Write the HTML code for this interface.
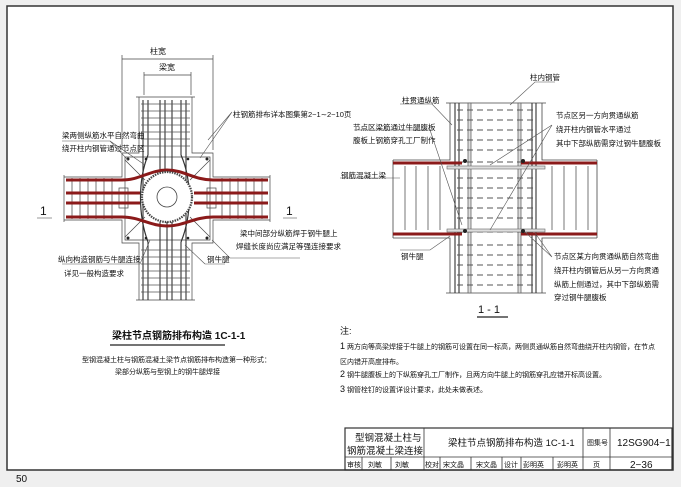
<!DOCTYPE html>
<html><head><meta charset="utf-8"><style>
html,body{margin:0;padding:0;background:#efefef;}
svg{display:block}
text{font-family:"Liberation Sans","Noto Sans CJK SC",sans-serif;fill:#111}
</style></head><body>
<svg width="681" height="487" viewBox="0 0 681 487" xmlns="http://www.w3.org/2000/svg">
<rect x="7" y="6" width="666" height="464" fill="#fff" stroke="#333" stroke-width="1.5"/>
<text x="16" y="482" font-size="10" font-family="Liberation Serif">50</text>

<!-- LEFT DIAGRAM -->
<g stroke="#444" fill="none" stroke-width="0.7">
 <line x1="122" y1="59" x2="213" y2="59"/><line x1="122" y1="55" x2="122" y2="150"/><line x1="213" y1="55" x2="213" y2="150"/>
 <line x1="144" y1="75" x2="191" y2="75"/><line x1="144" y1="72" x2="144" y2="95"/><line x1="191" y1="72" x2="191" y2="95"/>
 <path d="M139 97 V153 H122 V177 H64 M64 220 H122 V243 H139 V300 M192 97 V153 H213 V177 H270 M270 220 H213 V243 H192 V300"/>
 <line x1="136" y1="97" x2="195" y2="97"/><line x1="136" y1="300" x2="195" y2="300"/>
 <line x1="64" y1="175" x2="64" y2="222"/><line x1="270" y1="175" x2="270" y2="222"/>
 <path d="M125 157 H210 V240 H125 Z"/>
 <g stroke="#333" stroke-width="1.1">
  <line x1="143" y1="100" x2="143" y2="300"/><line x1="148" y1="100" x2="148" y2="155"/><line x1="148" y1="242" x2="148" y2="300"/>
  <line x1="186" y1="100" x2="186" y2="300"/><line x1="181" y1="100" x2="181" y2="155"/><line x1="181" y1="242" x2="181" y2="300"/>
  <line x1="160" y1="100" x2="160" y2="172"/><line x1="172" y1="100" x2="172" y2="172"/>
  <line x1="160" y1="222" x2="160" y2="300"/><line x1="172" y1="222" x2="172" y2="300"/>
  <line x1="165" y1="100" x2="165" y2="172"/><line x1="167" y1="222" x2="167" y2="300"/>
 </g>
 <g stroke="#555" stroke-width="0.8">
  <line x1="141" y1="104" x2="190" y2="104"/><line x1="141" y1="111" x2="190" y2="111"/><line x1="141" y1="118" x2="190" y2="118"/><line x1="141" y1="125" x2="190" y2="125"/><line x1="141" y1="132" x2="190" y2="132"/><line x1="141" y1="139" x2="190" y2="139"/><line x1="141" y1="146" x2="190" y2="146"/>
  <line x1="141" y1="250" x2="190" y2="250"/><line x1="141" y1="257" x2="190" y2="257"/><line x1="141" y1="264" x2="190" y2="264"/><line x1="141" y1="271" x2="190" y2="271"/><line x1="141" y1="278" x2="190" y2="278"/><line x1="141" y1="285" x2="190" y2="285"/><line x1="141" y1="292" x2="190" y2="292"/>
  <line x1="72" y1="178" x2="72" y2="219"/><line x1="80" y1="178" x2="80" y2="219"/><line x1="88" y1="178" x2="88" y2="219"/><line x1="96" y1="178" x2="96" y2="219"/><line x1="104" y1="178" x2="104" y2="219"/><line x1="112" y1="178" x2="112" y2="219"/>
  <line x1="222" y1="178" x2="222" y2="219"/><line x1="230" y1="178" x2="230" y2="219"/><line x1="238" y1="178" x2="238" y2="219"/><line x1="246" y1="178" x2="246" y2="219"/><line x1="254" y1="178" x2="254" y2="219"/><line x1="262" y1="178" x2="262" y2="219"/>
 </g>
 <path d="M148 155 C138 180 138 215 148 242 M181 155 C192 180 192 215 181 242" stroke="#333" stroke-width="1.2"/>
 <path d="M125 160 L145 180 M210 160 L190 180 M125 237 L145 217 M210 237 L190 217"/>
 <rect x="119" y="188" width="9" height="20"/><rect x="207" y="188" width="9" height="20"/>
</g>
<g stroke="#8b1a1a" stroke-width="3" fill="none">
 <path d="M66 180 H122 C140 180 150 170 167 170 C184 170 194 180 213 180 H268"/>
 <path d="M66 217 H122 C140 217 150 226 167 226 C184 226 194 217 213 217 H268"/>
 <line x1="66" y1="193" x2="140" y2="193"/><line x1="66" y1="203" x2="140" y2="203"/>
 <line x1="194" y1="193" x2="268" y2="193"/><line x1="194" y1="203" x2="268" y2="203"/>
</g>
<circle cx="167" cy="197" r="25" fill="#fff" stroke="#444" stroke-width="2.2" stroke-dasharray="1.5 1"/>
<circle cx="167" cy="197" r="10" fill="none" stroke="#444" stroke-width="0.8"/>
<g fill="#222">
 <circle cx="128" cy="159" r="1.5"/><circle cx="207" cy="159" r="1.5"/><circle cx="128" cy="238" r="1.5"/><circle cx="207" cy="238" r="1.5"/>
 <circle cx="146" cy="159" r="1.3"/><circle cx="188" cy="159" r="1.3"/><circle cx="146" cy="238" r="1.3"/><circle cx="188" cy="238" r="1.3"/>
</g>
<g stroke="#555" stroke-width="0.6" fill="none">
 <path d="M62 141 H110 L128 160 M110 141 L145 165"/>
 <path d="M232 112 L200 158 M232 112 L208 140"/>
 <path d="M62 264 H140 L150 240"/>
 <path d="M230 258 L212 240 M230 258 H300"/>
 <path d="M205 264 L185 245 M205 264 H225"/>
 <line x1="37" y1="218" x2="52" y2="218"/><line x1="283" y1="218" x2="297" y2="218"/>
</g>
<g font-size="7.5">
 <text x="150" y="54" font-size="8">柱宽</text>
 <text x="159" y="70" font-size="8">梁宽</text>
 <text x="233" y="117" font-size="7.5">柱钢筋排布详本图集第2−1∼2−10页</text>
 <text x="62" y="138">梁两侧纵筋水平自然弯曲</text>
 <text x="62" y="151">绕开柱内钢管通过节点区</text>
 <text x="240" y="236">梁中间部分纵筋焊于钢牛腿上</text>
 <text x="236" y="249">焊缝长度尚应满足等强连接要求</text>
 <text x="58" y="262">纵向构造钢筋与牛腿连接</text>
 <text x="64" y="276">详见一般构造要求</text>
 <text x="207" y="262">钢牛腿</text>
 <text x="40" y="215" font-size="12">1</text>
 <text x="286" y="215" font-size="12">1</text>
</g>
<text x="112" y="339" font-size="10" font-weight="bold">梁柱节点钢筋排布构造 1C-1-1</text>
<line x1="110" y1="345" x2="225" y2="345" stroke="#222" stroke-width="1.2"/>
<text x="82" y="362" font-size="7">型钢混凝土柱与钢筋混凝土梁节点钢筋排布构造第一种形式：</text>
<text x="115" y="374" font-size="7">梁部分纵筋与型钢上的钢牛腿焊接</text>

<!-- RIGHT DIAGRAM -->
<g stroke="#444" fill="none" stroke-width="0.8">
 <path d="M450 103 V160 H393 M393 238 H450 V293 M542 103 V160 H597 M597 238 H542 V293"/>
 <line x1="446" y1="103" x2="546" y2="103"/><line x1="446" y1="293" x2="546" y2="293"/>
 <line x1="393" y1="160" x2="393" y2="238"/><line x1="597" y1="160" x2="597" y2="238"/>
 <g stroke="#333" stroke-width="1.1">
  <line x1="455" y1="103" x2="455" y2="293"/><line x1="459" y1="103" x2="459" y2="293"/>
  <line x1="532" y1="103" x2="532" y2="293"/><line x1="536" y1="103" x2="536" y2="293"/>
 </g>
 <rect x="468" y="103" width="3" height="190" stroke="#666" stroke-width="0.8" fill="#ddd"/>
 <rect x="518" y="103" width="3" height="190" stroke="#666" stroke-width="0.8" fill="#ddd"/>
 <g stroke="#555" stroke-dasharray="6 4" stroke-width="1">
  <line x1="457" y1="110" x2="534" y2="110"/><line x1="457" y1="120" x2="534" y2="120"/><line x1="457" y1="130" x2="534" y2="130"/><line x1="457" y1="140" x2="534" y2="140"/><line x1="457" y1="150" x2="534" y2="150"/><line x1="457" y1="162" x2="534" y2="162"/>
  <line x1="457" y1="178" x2="534" y2="178"/><line x1="457" y1="188" x2="534" y2="188"/><line x1="457" y1="198" x2="534" y2="198"/><line x1="457" y1="208" x2="534" y2="208"/><line x1="457" y1="218" x2="534" y2="218"/><line x1="457" y1="232" x2="534" y2="232"/>
  <line x1="457" y1="245" x2="534" y2="245"/><line x1="457" y1="255" x2="534" y2="255"/><line x1="457" y1="265" x2="534" y2="265"/><line x1="457" y1="275" x2="534" y2="275"/><line x1="457" y1="285" x2="534" y2="285"/>
 </g>
 <rect x="447" y="166" width="98" height="3" fill="#ddd" stroke="#666" stroke-width="0.6"/>
 <rect x="447" y="229" width="98" height="3" fill="#ddd" stroke="#666" stroke-width="0.6"/>
 <g stroke="#555" stroke-width="0.8">
  <line x1="405" y1="166" x2="405" y2="230"/><line x1="416" y1="166" x2="416" y2="230"/><line x1="428" y1="166" x2="428" y2="230"/><line x1="440" y1="166" x2="440" y2="230"/>
  <line x1="552" y1="166" x2="552" y2="230"/><line x1="564" y1="166" x2="564" y2="230"/><line x1="576" y1="166" x2="576" y2="230"/><line x1="588" y1="166" x2="588" y2="230"/>
 </g>
</g>
<g stroke="#8b1a1a" stroke-width="3">
 <line x1="393" y1="163" x2="462" y2="163"/><line x1="521" y1="163" x2="597" y2="163"/>
 <line x1="393" y1="234" x2="462" y2="234"/><line x1="521" y1="234" x2="597" y2="234"/>
</g>
<g fill="#222"><circle cx="465" cy="161" r="2"/><circle cx="523" cy="161" r="2"/><circle cx="465" cy="231" r="2"/><circle cx="523" cy="231" r="2"/></g>
<g stroke="#555" stroke-width="0.6" fill="none">
 <path d="M555 82 H535 L510 105"/>
 <path d="M400 104 H432 L452 125"/>
 <path d="M354 130 H430 L457 210 M430 130 L462 225"/>
 <path d="M340 178 H400"/>
 <path d="M400 250 H430 L450 236"/>
 <path d="M552 125 L490 165 M552 125 L490 230"/>
 <path d="M552 257 L535 233 M552 257 L525 232"/>
</g>
<g font-size="7.5">
 <text x="530" y="80">柱内钢管</text>
 <text x="402" y="103">柱贯通纵筋</text>
 <text x="353" y="130">节点区梁筋通过牛腿腹板</text>
 <text x="353" y="143">腹板上钢筋穿孔工厂制作</text>
 <text x="341" y="178">钢筋混凝土梁</text>
 <text x="401" y="259">钢牛腿</text>
 <text x="556" y="118">节点区另一方向贯通纵筋</text>
 <text x="556" y="132">绕开柱内钢管水平通过</text>
 <text x="556" y="146">其中下部纵筋需穿过钢牛腿腹板</text>
 <text x="554" y="259">节点区某方向贯通纵筋自然弯曲</text>
 <text x="554" y="273">绕开柱内钢管后从另一方向贯通</text>
 <text x="554" y="287">纵筋上侧通过，其中下部纵筋需</text>
 <text x="554" y="300">穿过钢牛腿腹板</text>
 <text x="478" y="313" font-size="11">1 - 1</text>
</g>
<line x1="477" y1="317" x2="508" y2="317" stroke="#222" stroke-width="1.2"/>

<g font-size="7">
 <text x="340" y="334" font-size="9">注:</text>
 <text x="340" y="349"><tspan font-size="9">1</tspan>  两方向等高梁焊接于牛腿上的钢筋可设置在同一标高，两侧贯通纵筋自然弯曲绕开柱内钢管，在节点</text>
 <text x="340" y="364">区内错开高度排布。</text>
 <text x="340" y="377"><tspan font-size="9">2</tspan>  钢牛腿腹板上的下纵筋穿孔工厂制作，且两方向牛腿上的钢筋穿孔应错开标高设置。</text>
 <text x="340" y="392"><tspan font-size="9">3</tspan>  钢管栓钉的设置详设计要求，此处未做表述。</text>
</g>

<g stroke="#333" fill="none" stroke-width="0.8">
 <rect x="345" y="428" width="327" height="42" stroke-width="1.2"/>
 <line x1="345" y1="457" x2="672" y2="457"/>
 <line x1="424" y1="428" x2="424" y2="470"/><line x1="583" y1="428" x2="583" y2="470"/><line x1="610" y1="428" x2="610" y2="470"/>
 <line x1="362" y1="457" x2="362" y2="470"/><line x1="391" y1="457" x2="391" y2="470"/>
 <line x1="440" y1="457" x2="440" y2="470"/><line x1="471" y1="457" x2="471" y2="470"/><line x1="502" y1="457" x2="502" y2="470"/><line x1="521" y1="457" x2="521" y2="470"/><line x1="553" y1="457" x2="553" y2="470"/>
</g>
<g font-size="7">
 <text x="355" y="441" font-size="9.5">型钢混凝土柱与</text>
 <text x="347" y="454" font-size="9.5">钢筋混凝土梁连接</text>
 <text x="448" y="446" font-size="9.5">梁柱节点钢筋排布构造 1C-1-1</text>
 <text x="587" y="445">图集号</text>
 <text x="617" y="446" font-size="10" fill="#555">12SG904−1</text>
 <text x="347" y="467">审核</text><text x="368" y="467">刘敏</text><text x="395" y="467" fill="#777">刘敏</text>
 <text x="425" y="467">校对</text><text x="443" y="467">宋文晶</text><text x="476" y="467" fill="#777">宋文晶</text>
 <text x="504" y="467">设计</text><text x="523" y="467">彭明英</text><text x="557" y="467">彭明英</text>
 <text x="593" y="467">页</text>
 <text x="630" y="468" font-size="10" fill="#555">2−36</text>
</g>
</svg>
</body></html>
